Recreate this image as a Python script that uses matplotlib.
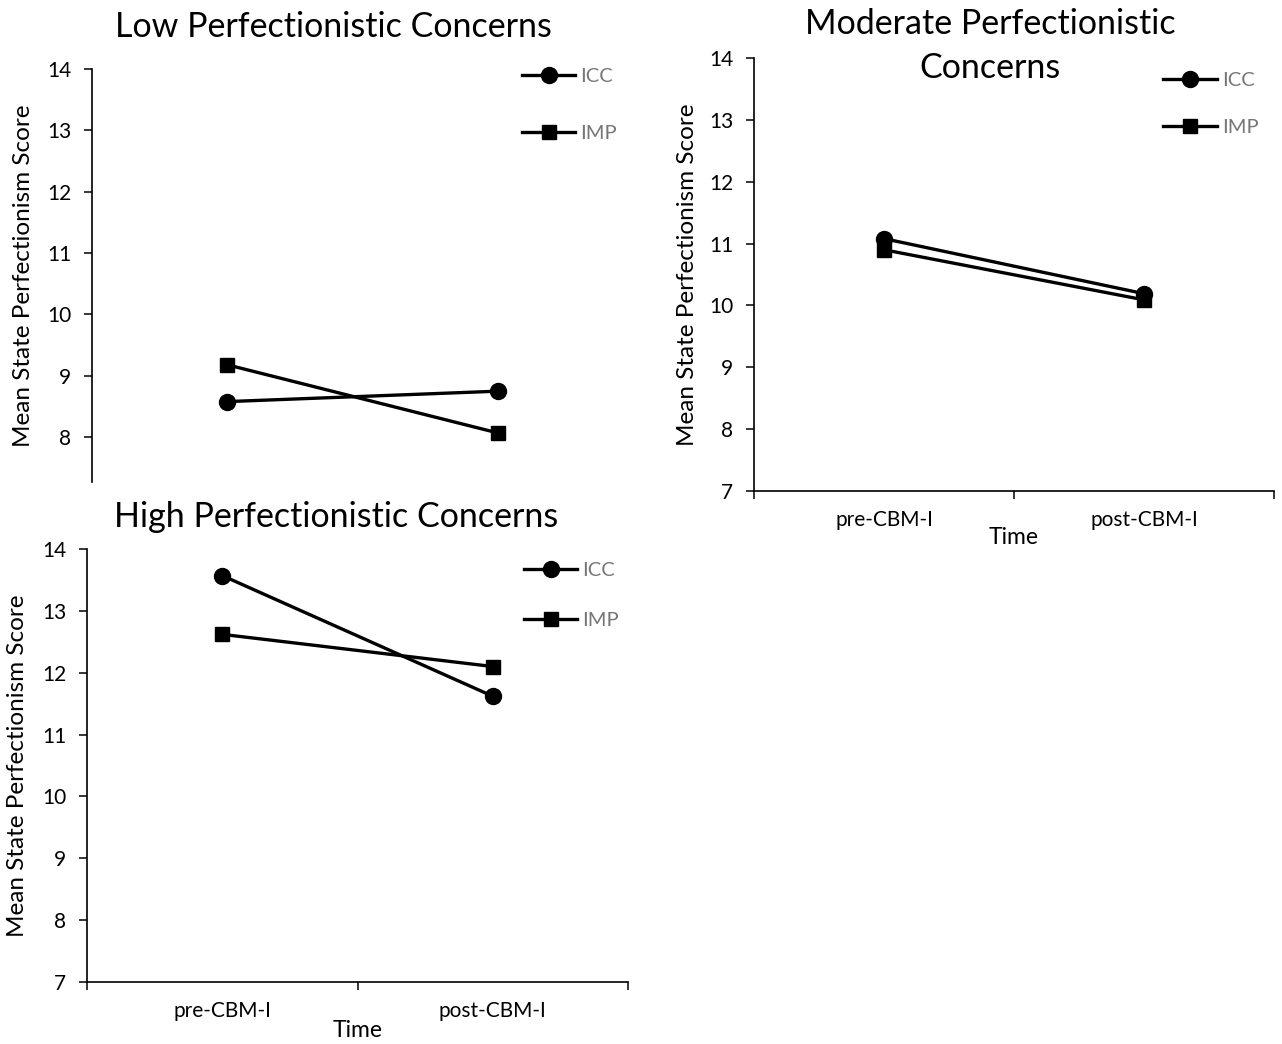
import matplotlib
matplotlib.use("Agg")
import matplotlib.pyplot as plt

plt.rcParams['font.family'] = ['Lato', 'DejaVu Sans']

# Données
temps = ["pre-CBM-I", "post-CBM-I"]
groupes = ["ICC", "IMP"]

faible_icc = [8.58, 8.75]
faible_imp = [9.18, 8.07]

modere_icc = [11.08, 10.19]
modere_imp = [10.90, 10.09]

eleve_icc = [13.57, 11.62]
eleve_imp = [12.62, 12.10]

yticks_faible = [8, 9, 10, 11, 12, 13, 14]
yticks = [7, 8, 9, 10, 11, 12, 13, 14]

W, H = 1282, 1044
fig = plt.figure(figsize=(W / 100, H / 100), dpi=100)


def axe_px(x0, x1, ytop, ybot):
    # position en pixels -> fraction de figure
    return fig.add_axes([x0 / W, 1 - ybot / H, (x1 - x0) / W, (ybot - ytop) / H])


def tracer(ax, icc, imp, ymin, ticks, axe_x=True, leg_x=0.79, leg_y=1.0, leg_sp=1.0,
           pad_y=9, pad_t=2):
    pos = [0.5, 1.5]
    ax.plot(pos, icc, color='black', lw=2.4, marker='o', ms=11.5, label=groupes[0])
    ax.plot(pos, imp, color='black', lw=2.4, marker='s', ms=10.5, label=groupes[1])
    ax.set_xlim(0, 2)
    ax.set_ylim(ymin, 14)
    ax.set_yticks(ticks)
    ax.tick_params(axis='y', labelsize=15, length=6, width=1.1, pad=9, direction='out')
    for s in ['top', 'right']:
        ax.spines[s].set_visible(False)
    ax.spines['left'].set_linewidth(1.2)
    if axe_x:
        ax.spines['bottom'].set_linewidth(1.2)
        ax.set_xticks([0, 1, 2])
        ax.set_xticklabels([])
        ax.set_xticks(pos, minor=True)
        ax.set_xticklabels(temps, minor=True)
        ax.tick_params(axis='x', which='major', length=6, width=1.1)
        ax.tick_params(axis='x', which='minor', length=0, labelsize=15, pad=14)
        ax.set_xlabel("Time", fontsize=16.5, labelpad=pad_t)
    else:
        ax.spines['bottom'].set_visible(False)
        ax.set_xticks([])
    ax.set_ylabel("Mean State Perfectionism Score", fontsize=17.5, labelpad=pad_y)
    ax.legend(loc='upper left', bbox_to_anchor=(leg_x, leg_y), frameon=False,
              fontsize=14.5, labelcolor='#767676', handlelength=2.65,
              handletextpad=0.25, labelspacing=leg_sp, borderaxespad=0, borderpad=0)
    return ax


ax1 = axe_px(92, 633, 69, 482)
tracer(ax1, faible_icc, faible_imp, 7.27, yticks_faible, axe_x=False,
       leg_x=0.795, leg_y=1.003, leg_sp=2.0, pad_y=9)
fig.text(333 / W, 1 - 27 / H, "Low Perfectionistic Concerns", ha='center', va='center', fontsize=24.5)

ax2 = axe_px(754, 1274, 58, 491)
tracer(ax2, modere_icc, modere_imp, 7, yticks, leg_x=0.787, leg_y=0.967, leg_sp=1.45,
       pad_y=8, pad_t=-2.5)
fig.text(990 / W, 1 - 46 / H, "Moderate Perfectionistic\nConcerns", ha='center', va='center',
         fontsize=24.5, linespacing=1.5)

ax3 = axe_px(87, 628, 549, 982)
tracer(ax3, eleve_icc, eleve_imp, 7, yticks, leg_x=0.808, leg_y=0.971, leg_sp=1.65,
       pad_y=10, pad_t=-1)
fig.text(336 / W, 1 - 517 / H, "High Perfectionistic Concerns", ha='center', va='center', fontsize=24.5)

fig.savefig("out.png", dpi=100)
